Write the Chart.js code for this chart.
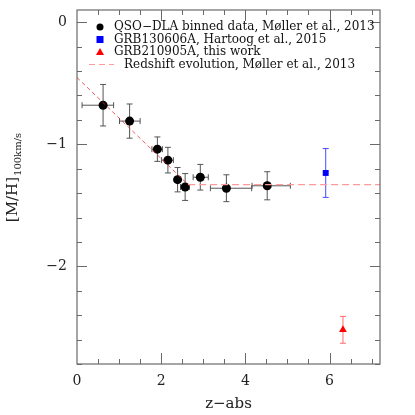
<!DOCTYPE html>
<html>
<head>
<meta charset="utf-8">
<script src="https://cdn.jsdelivr.net/npm/chart.js@4"></script>
<style>
  html, body { margin: 0; padding: 0; background: #fff; }
  #wrap { width: 415px; height: 415px; }
</style>
</head>
<body>
<div id="wrap"><canvas id="metalChart" width="415" height="415"></canvas></div>
<script>
// QSO-DLA binned data (Moller et al. 2013)
const dlaZ      = [0.62, 1.25, 1.91, 2.16, 2.39, 2.57, 2.93, 3.55, 4.52];
const dlaZLo    = [0.12, 1.01, 1.78, 2.01, 2.33, 2.46, 2.76, 3.17, 4.16];
const dlaZHi    = [0.87, 1.50, 2.03, 2.29, 2.46, 2.67, 3.12, 4.15, 5.07];
const dlaMH     = [-0.68, -0.81, -1.04, -1.13, -1.29, -1.35, -1.27, -1.36, -1.34];
const dlaMHErr  = [0.17, 0.14, 0.10, 0.105, 0.10, 0.11, 0.105, 0.11, 0.115];

// GRB points
const grb1306Z = [5.91];
const grb1306MH = [-1.235];
const grb1306Err = [0.20];
const grb2109Z = [6.32];
const grb2109MH = [-2.52];
const grb2109Err = [0.11];

// redshift evolution: sloped part and plateau
const evolZ  = [0, 2.64];
const evolMH = [-0.453, -1.33];
const flatZ  = [2.64, 7.2];
const flatMH = [-1.33, -1.33];

const yTickValues = [0, -1, -2];
const xTickValues = [0, 2, 4, 6];

const legendLabels = [
  'QSO\u2212DLA binned data, M\u00f8ller et al., 2013',
  'GRB130606A, Hartoog et al., 2015',
  'GRB210905A, this work',
  'Redshift evolution, M\u00f8ller et al., 2013'
];

const FONT = '"DejaVu Serif", "Liberation Serif", serif';
const AXIS_COLOR = '#6a6a6a';

function pts(xs, ys) {
  return xs.map((x, i) => ({ x: x, y: ys[i] }));
}

// error bars, frame, inward ticks, legend and axis titles
const extrasPlugin = {
  id: 'extras',
  beforeDatasetsDraw(chart) {
    const ctx = chart.ctx;
    const xs = chart.scales.x, ys = chart.scales.y;
    const cap = 3;
    function bars(zs, zlo, zhi, mh, err, color) {
      ctx.save();
      ctx.strokeStyle = color;
      ctx.lineWidth = 1;
      zs.forEach((z, i) => {
        const px = xs.getPixelForValue(z);
        const py = ys.getPixelForValue(mh[i]);
        const yt = ys.getPixelForValue(mh[i] + err[i]);
        const yb = ys.getPixelForValue(mh[i] - err[i]);
        ctx.beginPath();
        ctx.moveTo(px, yt); ctx.lineTo(px, yb);
        ctx.moveTo(px - cap, yt); ctx.lineTo(px + cap, yt);
        ctx.moveTo(px - cap, yb); ctx.lineTo(px + cap, yb);
        if (zlo) {
          const xl = xs.getPixelForValue(zlo[i]);
          const xr = xs.getPixelForValue(zhi[i]);
          ctx.moveTo(xl, py); ctx.lineTo(xr, py);
          ctx.moveTo(xl, py - cap); ctx.lineTo(xl, py + cap);
          ctx.moveTo(xr, py - cap); ctx.lineTo(xr, py + cap);
        }
        ctx.stroke();
      });
      ctx.restore();
    }
    bars(dlaZ, dlaZLo, dlaZHi, dlaMH, dlaMHErr, '#555555');
    bars(grb1306Z, null, null, grb1306MH, grb1306Err, '#4a4aff');
    bars(grb2109Z, null, null, grb2109MH, grb2109Err, '#ff6a6a');
  },
  afterDraw(chart) {
    const ctx = chart.ctx;
    const a = chart.chartArea;
    const xs = chart.scales.x, ys = chart.scales.y;
    ctx.save();
    ctx.strokeStyle = AXIS_COLOR;
    ctx.lineWidth = 1.2;
    ctx.strokeRect(a.left, a.top, a.right - a.left, a.bottom - a.top);

    ctx.lineWidth = 1;
    ctx.beginPath();
    // x ticks every 0.5, major every 2
    for (let v = 0.5; v < 7.2; v += 0.5) {
      const p = Math.round(xs.getPixelForValue(v)) + 0.5;
      const len = (Math.abs(v % 2) < 1e-6) ? 11 : 5;
      ctx.moveTo(p, a.bottom); ctx.lineTo(p, a.bottom - len);
      ctx.moveTo(p, a.top); ctx.lineTo(p, a.top + len);
    }
    // y ticks every 0.2, major every 1
    for (let k = -14; k <= 0; k++) {
      const v = k * 0.2;
      const p = Math.round(ys.getPixelForValue(v)) + 0.5;
      const len = (k % 5 === 0) ? 10 : 5;
      ctx.moveTo(a.left, p); ctx.lineTo(a.left + len, p);
      ctx.moveTo(a.right, p); ctx.lineTo(a.right - len, p);
    }
    ctx.stroke();

    // legend
    const lx = 100, tx = 114;
    const rows = [27, 39.5, 52, 64.5];
    ctx.font = '12px ' + FONT;
    ctx.fillStyle = '#111';
    ctx.textBaseline = 'middle';
    ctx.textAlign = 'left';
    ctx.fillText(legendLabels[0], tx, rows[0]);
    ctx.fillText(legendLabels[1], tx, rows[1]);
    ctx.fillText(legendLabels[2], tx, rows[2]);
    ctx.fillText(legendLabels[3], 124, rows[3]);
    ctx.beginPath();
    ctx.arc(lx, rows[0], 3.5, 0, Math.PI * 2);
    ctx.fillStyle = '#000';
    ctx.fill();
    ctx.fillStyle = '#0000ff';
    ctx.fillRect(lx - 3.5, rows[1] - 3.5, 7, 7);
    ctx.fillStyle = '#ff0000';
    ctx.beginPath();
    ctx.moveTo(lx, rows[2] - 4);
    ctx.lineTo(lx + 4, rows[2] + 3);
    ctx.lineTo(lx - 4, rows[2] + 3);
    ctx.closePath();
    ctx.fill();
    ctx.strokeStyle = '#ff9a9a';
    ctx.lineWidth = 1.2;
    ctx.setLineDash([6, 4]);
    ctx.beginPath();
    ctx.moveTo(89, rows[3]); ctx.lineTo(114, rows[3]);
    ctx.stroke();
    ctx.setLineDash([]);

    // axis titles
    ctx.fillStyle = '#222';
    ctx.textAlign = 'center';
    ctx.textBaseline = 'alphabetic';
    ctx.font = '15px ' + FONT;
    ctx.fillText('z\u2212abs', (a.left + a.right) / 2, 408);

    ctx.save();
    ctx.translate(17, 178);
    ctx.rotate(-Math.PI / 2);
    ctx.font = '15px ' + FONT;
    const main = '[M/H]';
    const sub = '100km/s';
    const wMain = ctx.measureText(main).width;
    ctx.font = '10px ' + FONT;
    const wSub = ctx.measureText(sub).width;
    const start = -(wMain + wSub) / 2;
    ctx.textAlign = 'left';
    ctx.font = '15px ' + FONT;
    ctx.fillText(main, start, 0);
    ctx.font = '10px ' + FONT;
    ctx.fillText(sub, start + wMain + 1, 4);
    ctx.restore();

    ctx.restore();
  }
};

const ctxMetal = document.getElementById('metalChart').getContext('2d');
const metalChart = new Chart(ctxMetal, {
  type: 'scatter',
  data: {
    datasets: [
      {
        label: legendLabels[3],
        type: 'line',
        data: pts(evolZ, evolMH),
        borderColor: 'rgba(235,40,40,0.85)',
        borderWidth: 0.9,
        borderDash: [4, 3],
        pointRadius: 0,
        fill: false
      },
      {
        label: legendLabels[3] + ' (plateau)',
        type: 'line',
        data: pts(flatZ, flatMH),
        borderColor: '#ff9a9a',
        borderWidth: 1.2,
        borderDash: [7, 4],
        pointRadius: 0,
        fill: false
      },
      {
        label: legendLabels[0],
        data: pts(dlaZ, dlaMH),
        pointStyle: 'circle',
        pointRadius: 4.5,
        backgroundColor: '#000',
        borderColor: '#000',
        borderWidth: 0
      },
      {
        label: legendLabels[1],
        data: pts(grb1306Z, grb1306MH),
        pointStyle: 'rect',
        pointRadius: 4.2,
        backgroundColor: '#0000ff',
        borderColor: '#0000ff',
        borderWidth: 0
      },
      {
        label: legendLabels[2],
        data: pts(grb2109Z, grb2109MH),
        pointStyle: 'triangle',
        pointRadius: 4.5,
        backgroundColor: '#ff0000',
        borderColor: '#ff0000',
        borderWidth: 0
      }
    ]
  },
  options: {
    responsive: false,
    animation: false,
    layout: { padding: { left: 0, right: 35, top: 10, bottom: 0 } },
    plugins: {
      legend: { display: false },
      tooltip: { enabled: false }
    },
    scales: {
      x: {
        type: 'linear',
        min: 0,
        max: 7.2,
        grid: { display: false, drawTicks: false },
        border: { display: false },
        afterBuildTicks: (scale) => { scale.ticks = xTickValues.map(v => ({ value: v })); },
        afterFit: (scale) => {
          scale.height = 51;
          scale.paddingLeft = 0;
          scale.paddingRight = 0;
        },
        ticks: {
          padding: 9,
          color: '#222',
          font: { family: FONT, size: 14 },
          callback: (v) => (v < 0 ? '\u2212' + Math.abs(v) : String(v))
        }
      },
      y: {
        type: 'linear',
        min: -2.8,
        max: 0.1,
        grid: { display: false, drawTicks: false },
        border: { display: false },
        afterBuildTicks: (scale) => { scale.ticks = yTickValues.map(v => ({ value: v })); },
        afterFit: (scale) => {
          scale.width = 77;
          scale.paddingTop = 0;
          scale.paddingBottom = 0;
        },
        ticks: {
          padding: 10,
          color: '#222',
          font: { family: FONT, size: 14 },
          callback: (v) => (v < 0 ? '\u2212' + Math.abs(v) : String(v))
        }
      }
    }
  },
  plugins: [extrasPlugin]
});
</script>
</body>
</html>
